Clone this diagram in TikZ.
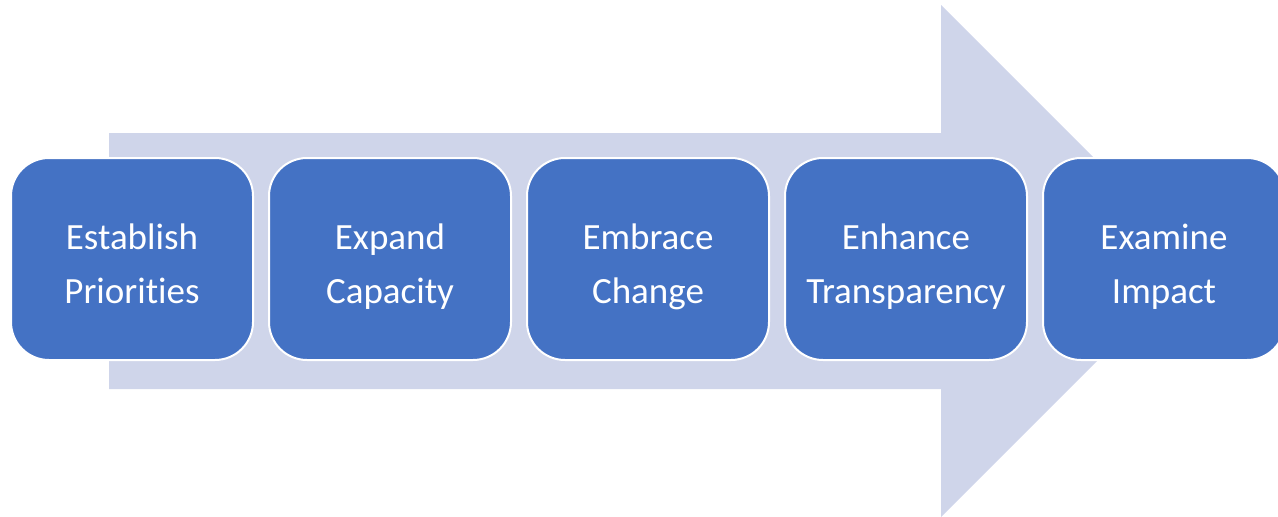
\documentclass[tikz,border=0pt]{standalone}
\usepackage{fontspec}
\setmainfont[Ligatures={NoCommon,NoRare},RawFeature={-liga;-dlig}]{Carlito}
\definecolor{boxblue}{HTML}{4472C4}
\definecolor{arrowgray}{HTML}{CFD5EA}
\newcommand\twolines[2]{\rule{0pt}{46pt}#1\\#2\rule[-12pt]{0pt}{12pt}}
\tikzset{
  stepbox/.style={rectangle, rounded corners=38pt, draw=white, line width=2pt,
    fill=boxblue, minimum width=242pt, minimum height=202pt, text=white,
    align=center, font=\fontsize{37pt}{54pt}\selectfont, inner sep=0pt},
}
\begin{document}
\begin{tikzpicture}[x=1pt,y=-1pt]
\useasboundingbox (0,0) rectangle (1278,517);
\clip (0,0) rectangle (1278,517);
\fill[arrowgray] (109,133) -- (941,133) -- (941,5) -- (1197,261) -- (941,517) -- (941,389) -- (109,389) -- cycle;
\node[stepbox] (b1) at (132,259) {\twolines{Establish}{Priorities}};
\node[stepbox] (b2) at (390,259) {\twolines{Expand}{Capacity}};
\node[stepbox] (b3) at (648,259) {\twolines{Embrace}{Change}};
\node[stepbox] (b4) at (906,259) {\twolines{Enhance}{Transparency}};
\node[stepbox] (b5) at (1164,259) {\twolines{Examine}{Impact}};
\end{tikzpicture}
\end{document}
